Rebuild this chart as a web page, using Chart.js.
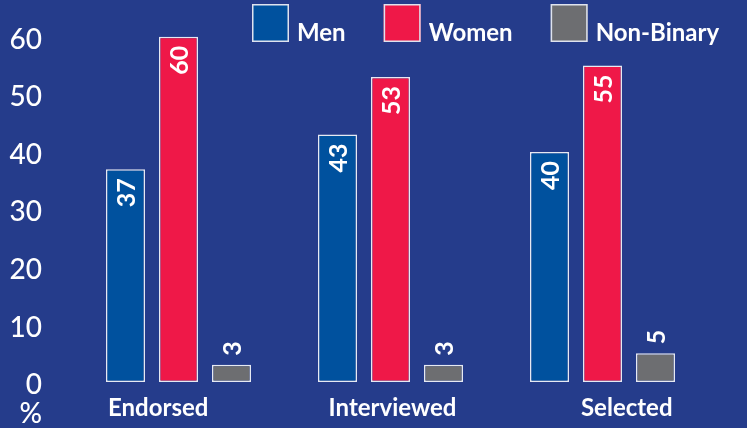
<!DOCTYPE html>
<html>
<head>
<meta charset="utf-8">
<script src="https://cdn.jsdelivr.net/npm/chart.js@4"></script>
<style>
  html, body { margin: 0; padding: 0; background: #253c8b; }
  #wrap { width: 747px; height: 428px; position: relative; }
</style>
</head>
<body>
<div id="wrap"><canvas id="chart"></canvas></div>
<script>
const categories = ["Endorsed", "Interviewed", "Selected"];
const seriesNames = ["Men", "Women", "Non-Binary"];
const menValues = [37, 43, 40];
const womenValues = [60, 53, 55];
const nonBinaryValues = [3, 3, 5];
const yTicks = [0, 10, 20, 30, 40, 50, 60];

const BG = "#253c8b";
const colors = ["#00519e", "#ef1848", "#6d6e71"];
const FONT = "Lato, 'Open Sans', sans-serif";

// value labels rotated inside / above each bar
const valueLabels = {
  id: "valueLabels",
  afterDatasetsDraw(chart) {
    const ctx = chart.ctx;
    ctx.save();
    ctx.fillStyle = "#ffffff";
    ctx.font = "bold 25px " + FONT;
    ctx.textBaseline = "middle";
    chart.data.datasets.forEach((ds, i) => {
      const meta = chart.getDatasetMeta(i);
      meta.data.forEach((bar, j) => {
        const h = bar.base - bar.y;
        ctx.save();
        ctx.translate(bar.x, bar.y);
        ctx.rotate(-Math.PI / 2);
        if (h > 60) {
          ctx.textAlign = "right";
          ctx.fillText(String(ds.data[j]), -9, 1);
        } else {
          ctx.textAlign = "left";
          ctx.fillText(String(ds.data[j]), 9, 1);
        }
        ctx.restore();
      });
    });
    ctx.restore();
  }
};

// category labels + "%" under the y axis
const axisText = {
  id: "axisText",
  afterDraw(chart) {
    const ctx = chart.ctx;
    const xs = chart.scales.x;
    const ys = chart.scales.y;
    const area = chart.chartArea;
    const mid = (area.left + area.right) / 2;
    ctx.save();
    ctx.fillStyle = "#ffffff";
    ctx.font = "bold 24px " + FONT;
    ctx.textAlign = "center";
    ctx.textBaseline = "alphabetic";
    categories.forEach((c, i) => {
      const px = xs.getPixelForValue(i);
      ctx.fillText(c, mid + (px - mid) * 1.105 + 2, area.bottom + 34);
    });
    ctx.font = "500 28px " + FONT;
    ctx.textAlign = "right";
    ctx.fillText("%", ys.right - 30.5, area.bottom + 41);
    ctx.restore();
  }
};

// legend row at the top right
const topLegend = {
  id: "topLegend",
  afterDraw(chart) {
    const ctx = chart.ctx;
    ctx.save();
    ctx.font = "bold 24px " + FONT;
    ctx.textBaseline = "alphabetic";
    ctx.textAlign = "left";
    let x = 252;
    chart.data.datasets.forEach((ds) => {
      ctx.fillStyle = ds.backgroundColor;
      ctx.fillRect(x, 4, 37, 38);
      ctx.strokeStyle = "#dfe3ee";
      ctx.lineWidth = 1.5;
      ctx.strokeRect(x + 0.75, 4.75, 35.5, 36.5);
      ctx.fillStyle = "#ffffff";
      ctx.fillText(ds.label, x + 45, 41);
      x += 45 + ctx.measureText(ds.label).width + 38;
    });
    ctx.restore();
  }
};

const canvasBg = {
  id: "canvasBg",
  beforeDraw(chart) {
    const ctx = chart.ctx;
    ctx.save();
    ctx.fillStyle = BG;
    ctx.fillRect(0, 0, chart.width, chart.height);
    ctx.restore();
  }
};

const seriesValues = [menValues, womenValues, nonBinaryValues];

new Chart(document.getElementById("chart"), {
  type: "bar",
  data: {
    labels: categories,
    datasets: seriesNames.map((name, i) => ({
      label: name,
      data: seriesValues[i],
      backgroundColor: colors[i],
      borderColor: "#e6e9f2",
      borderWidth: 1.5,
      borderSkipped: false,
      categoryPercentage: 0.75,
      barPercentage: 0.736
    }))
  },
  options: {
    responsive: true,
    maintainAspectRatio: false,
    animation: false,
    layout: { padding: { top: 0, right: 38.5, bottom: 46, left: 0 } },
    plugins: {
      legend: { display: false },
      tooltip: { enabled: false }
    },
    scales: {
      x: {
        display: false
      },
      y: {
        min: 0,
        max: 66.4,
        afterBuildTicks: (s) => { s.ticks = yTicks.map(v => ({ value: v })); },
        afterFit: (s) => {
          s.width = 72.5;
          s.paddingTop = 0;
          s.paddingBottom = 0;
        },
        grid: { display: false, drawTicks: false },
        border: { display: false },
        ticks: {
          color: "#ffffff",
          padding: 30.5,
          labelOffset: 3,
          font: { family: FONT, size: 28, weight: "500" }
        }
      }
    }
  },
  plugins: [canvasBg, valueLabels, axisText, topLegend]
});
</script>
</body>
</html>
